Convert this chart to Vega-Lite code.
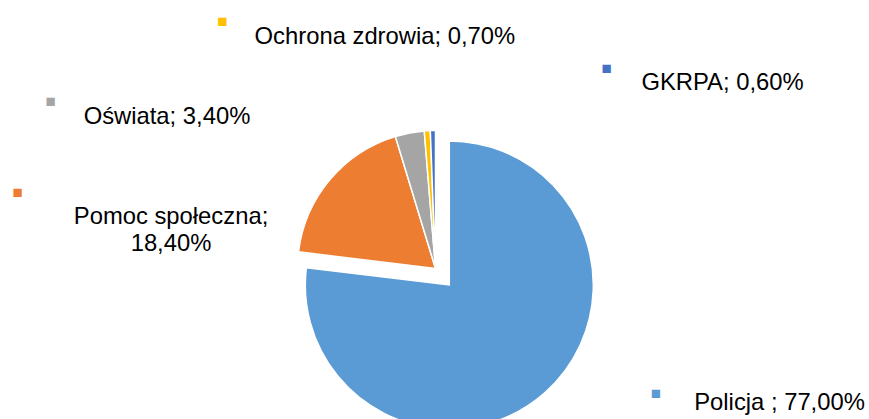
{
  "$schema": "https://vega.github.io/schema/vega-lite/v6.json",
  "width": 869,
  "height": 419,
  "autosize": "none",
  "padding": 0,
  "background": "white",
  "config": {"view": {"stroke": null}, "text": {"font": "Liberation Sans"}},
  "data": {
    "values": [
      {"cat": "Policja ", "value": 77.0, "order": 1},
      {"cat": "Pomoc społeczna", "value": 18.4, "order": 2},
      {"cat": "Oświata", "value": 3.4, "order": 3},
      {"cat": "Ochrona zdrowia", "value": 0.7, "order": 4},
      {"cat": "GKRPA", "value": 0.6, "order": 5}
    ]
  },
  "transform": [
    {"stack": "value", "groupby": [], "sort": [{"field": "order", "order": "ascending"}], "as": ["v0", "v1"]},
    {"calculate": "(datum.v0 + datum.v1) / 2", "as": "mid"},
    {"calculate": "datum.cat + '; ' + replace(format(datum.value, '.2f'), '.', ',') + '%'", "as": "label"}
  ],
  "layer": [
    {
      "transform": [{"filter": "datum.order > 1"}],
      "mark": {"type": "arc", "radius": 138, "xOffset": 1, "yOffset": 59, "stroke": "white", "strokeWidth": 1.5},
      "encoding": {
        "theta": {"field": "v0", "type": "quantitative", "stack": null, "scale": {"domain": [0, 100.1]}},
        "theta2": {"field": "v1"},
        "color": {"field": "cat", "type": "nominal", "legend": null,
          "scale": {"domain": ["Policja ", "Pomoc społeczna", "Oświata", "Ochrona zdrowia", "GKRPA"],
                    "range": ["#5B9BD5", "#ED7D31", "#A5A5A5", "#FFC000", "#4472C4"]}}
      }
    },
    {
      "transform": [{"filter": "datum.order == 1"}],
      "mark": {"type": "arc", "radius": 144, "xOffset": 14.8, "yOffset": 75.5, "stroke": "white", "strokeWidth": 1.5},
      "encoding": {
        "theta": {"field": "v0", "type": "quantitative", "stack": null, "scale": {"domain": [0, 100.1]}},
        "theta2": {"field": "v1"},
        "color": {"field": "cat", "type": "nominal", "legend": null}
      }
    },
    {
      "transform": [{"filter": "datum.order == 1"}],
      "mark": {"type": "text", "radius": 300, "xOffset": 1, "yOffset": 59, "dx": 145.1, "dy": -90.2, "fontSize": 23.8, "align": "center", "baseline": "middle", "color": "#000000"},
      "encoding": {"theta": {"field": "mid", "type": "quantitative", "stack": null}, "text": {"field": "label"}}
    },
    {
      "transform": [{"filter": "datum.order == 2"}, {"calculate": "[datum.cat + ';', replace(format(datum.value, '.2f'), '.', ',') + '%']", "as": "label2"}],
      "mark": {"type": "text", "radius": 200, "xOffset": 1, "yOffset": 59, "dx": -111.3, "dy": 76.9, "fontSize": 23.8, "lineHeight": 27.6, "align": "center", "baseline": "middle", "color": "#000000"},
      "encoding": {"theta": {"field": "mid", "type": "quantitative", "stack": null}, "text": {"field": "label2"}}
    },
    {
      "transform": [{"filter": "datum.order == 3"}],
      "mark": {"type": "text", "radius": 200, "xOffset": 1, "yOffset": 59, "dx": -231.1, "dy": 44.6, "fontSize": 23.8, "align": "center", "baseline": "middle", "color": "#000000"},
      "encoding": {"theta": {"field": "mid", "type": "quantitative", "stack": null}, "text": {"field": "label"}}
    },
    {
      "transform": [{"filter": "datum.order == 4"}],
      "mark": {"type": "text", "radius": 230, "xOffset": 1, "yOffset": 59, "dx": -36.9, "dy": -1.5, "fontSize": 23.8, "align": "center", "baseline": "middle", "color": "#000000"},
      "encoding": {"theta": {"field": "mid", "type": "quantitative", "stack": null}, "text": {"field": "label"}}
    },
    {
      "transform": [{"filter": "datum.order == 5"}],
      "mark": {"type": "text", "radius": 190, "xOffset": 1, "yOffset": 59, "dx": 290.6, "dy": 4.8, "fontSize": 23.8, "align": "center", "baseline": "middle", "color": "#000000"},
      "encoding": {"theta": {"field": "mid", "type": "quantitative", "stack": null}, "text": {"field": "label"}}
    },
    {
      "transform": [{"filter": "datum.order == 1"}],
      "mark": {"type": "text", "text": "■", "radius": 300, "xOffset": 1, "yOffset": 59, "dx": 21.4, "dy": -98.7, "fontSize": 17, "align": "center", "baseline": "middle"},
      "encoding": {"theta": {"field": "mid", "type": "quantitative", "stack": null}, "color": {"field": "cat", "type": "nominal", "legend": null}}
    },
    {
      "transform": [{"filter": "datum.order == 2"}],
      "mark": {"type": "text", "text": "■", "radius": 200, "xOffset": 1, "yOffset": 59, "dx": -264.7, "dy": 52.9, "fontSize": 17, "align": "center", "baseline": "middle"},
      "encoding": {"theta": {"field": "mid", "type": "quantitative", "stack": null}, "color": {"field": "cat", "type": "nominal", "legend": null}}
    },
    {
      "transform": [{"filter": "datum.order == 3"}],
      "mark": {"type": "text", "text": "■", "radius": 200, "xOffset": 1, "yOffset": 59, "dx": -347.3, "dy": 30.4, "fontSize": 17, "align": "center", "baseline": "middle"},
      "encoding": {"theta": {"field": "mid", "type": "quantitative", "stack": null}, "color": {"field": "cat", "type": "nominal", "legend": null}}
    },
    {
      "transform": [{"filter": "datum.order == 4"}],
      "mark": {"type": "text", "text": "■", "radius": 230, "xOffset": 1, "yOffset": 59, "dx": -199.4, "dy": -16.8, "fontSize": 17, "align": "center", "baseline": "middle"},
      "encoding": {"theta": {"field": "mid", "type": "quantitative", "stack": null}, "color": {"field": "cat", "type": "nominal", "legend": null}}
    },
    {
      "transform": [{"filter": "datum.order == 5"}],
      "mark": {"type": "text", "text": "■", "radius": 190, "xOffset": 1, "yOffset": 59, "dx": 174.6, "dy": -9.3, "fontSize": 17, "align": "center", "baseline": "middle"},
      "encoding": {"theta": {"field": "mid", "type": "quantitative", "stack": null}, "color": {"field": "cat", "type": "nominal", "legend": null}}
    }
  ]
}
